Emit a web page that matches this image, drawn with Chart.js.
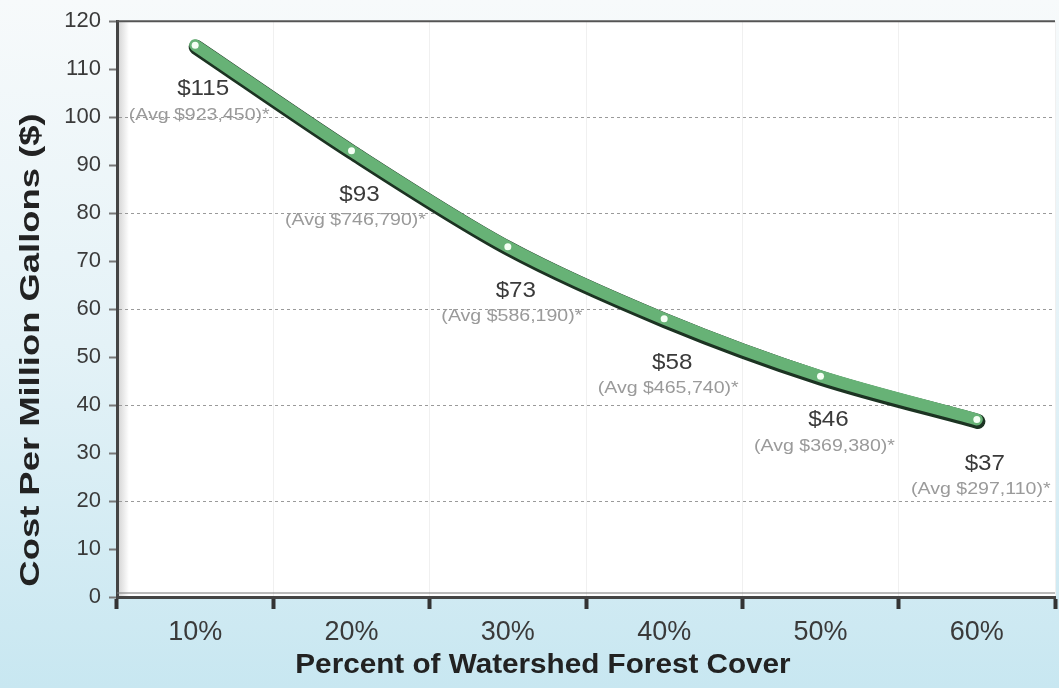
<!DOCTYPE html>
<html>
<head>
<meta charset="utf-8">
<script src="https://cdn.jsdelivr.net/npm/chart.js@4.4.1/dist/chart.umd.min.js"></script>
<style>
  html, body { margin: 0; padding: 0; background: #eef6f9; }
  #wrap { width: 1059px; height: 688px; position: relative; }
</style>
</head>
<body>
<div id="wrap"><canvas id="myChart"></canvas></div>
<script>
(() => {
  'use strict'

  // data
  const categories = ['10%', '20%', '30%', '40%', '50%', '60%']
  const costPerMillion = [115, 93, 73, 58, 46, 37]
  const avgCost = [923450, 746790, 586190, 465740, 369380, 297110]
  const yTicks = [0, 10, 20, 30, 40, 50, 60, 70, 80, 90, 100, 110, 120]
  const yTitle = 'Cost Per Million Gallons ($)'
  const xTitle = 'Percent of Watershed Forest Cover'

  const FONT = '"Liberation Sans", Arial, sans-serif'

  // text a bit wider than the font gives (the original picture is stretched)
  function wideText (ctx, text, x, y, sx) {
    ctx.save()
    ctx.translate(x, y)
    ctx.scale(sx, 1)
    ctx.fillText(text, 0, 0)
    ctx.restore()
  }

  // background, plot frame, titles, point labels
  const framePlugin = {
    id: 'frame',
    beforeDraw (chart) {
      const { ctx, chartArea: a, width, height } = chart
      ctx.save()
      const g = ctx.createLinearGradient(0, 0, 0, height)
      g.addColorStop(0, '#f7fafb')
      g.addColorStop(0.5, '#e4f2f7')
      g.addColorStop(1, '#c8e7f1')
      ctx.fillStyle = g
      ctx.fillRect(0, 0, width, height)
      ctx.fillStyle = '#ffffff'
      ctx.fillRect(a.left, a.top, a.right - a.left, a.bottom - a.top)
      const s = ctx.createLinearGradient(a.left, 0, a.left + 12, 0)
      s.addColorStop(0, 'rgba(120,120,120,0.35)')
      s.addColorStop(1, 'rgba(120,120,120,0)')
      ctx.fillStyle = s
      ctx.fillRect(a.left, a.top, 12, a.bottom - a.top)
      ctx.restore()
    },
    beforeDatasetDraw (chart, args) {
      if (args.index === 1) {
        chart.ctx.save()
        chart.ctx.translate(1, 2)
      }
    },
    afterDatasetDraw (chart, args) {
      if (args.index === 1) chart.ctx.restore()
    },
    afterDraw (chart) {
      const { ctx, chartArea: a } = chart
      ctx.save()
      // top border
      ctx.strokeStyle = '#555'
      ctx.lineWidth = 2
      ctx.beginPath()
      ctx.moveTo(a.left, a.top)
      ctx.lineTo(a.right, a.top)
      ctx.stroke()
      // double bottom line
      ctx.strokeStyle = '#777'
      ctx.lineWidth = 1
      ctx.beginPath()
      ctx.moveTo(a.left, a.bottom - 4)
      ctx.lineTo(a.right, a.bottom - 4)
      ctx.stroke()

      // value labels under each point
      const meta = chart.getDatasetMeta(0)
      ctx.textAlign = 'center'
      ctx.textBaseline = 'middle'
      meta.data.forEach((pt, i) => {
        ctx.fillStyle = '#3a3a3a'
        ctx.font = '22px ' + FONT
        wideText(ctx, '$' + costPerMillion[i], pt.x + 8, pt.y + 44, 1.1)
        ctx.fillStyle = '#9a9a9a'
        ctx.font = '17px ' + FONT
        wideText(ctx, '(Avg $' + avgCost[i].toLocaleString('en-US') + ')*', pt.x + 4, pt.y + 70, 1.15)
      })

      // axis titles
      ctx.fillStyle = '#222'
      ctx.font = 'bold 28px ' + FONT
      wideText(ctx, xTitle, 543, 665, 1.06)
      ctx.save()
      ctx.translate(31, 350)
      ctx.rotate(-Math.PI / 2)
      wideText(ctx, yTitle, 0, 0, 1.3)
      ctx.restore()
      ctx.restore()
    }
  }

  const ctx = document.getElementById('myChart')

  // eslint-disable-next-line no-unused-vars
  const myChart = new Chart(ctx, {
    type: 'line',
    plugins: [framePlugin],
    data: {
      labels: categories,
      datasets: [{
        data: costPerMillion,
        tension: 0.3,
        borderColor: '#67b276',
        borderWidth: 12,
        borderCapStyle: 'round',
        borderJoinStyle: 'round',
        pointRadius: 3.5,
        pointBorderWidth: 0,
        pointBackgroundColor: '#f4fff4',
        order: 1,
      }, {
        data: costPerMillion,
        tension: 0.3,
        borderColor: '#1c3322',
        borderWidth: 15,
        borderCapStyle: 'round',
        borderJoinStyle: 'round',
        pointRadius: 0,
        order: 2,
      }]
    },
    options: {
      responsive: true,
      maintainAspectRatio: false,
      animation: false,
      layout: { padding: { top: 16, right: 0, left: 0, bottom: 0 } },
      plugins: {
        legend: { display: false },
        tooltip: { enabled: false },
      },
      scales: {
        x: {
          offset: true,
          grid: {
            offset: true,
            color: '#f0f0f0',
            lineWidth: 1,
            tickColor: '#333',
            tickWidth: 4,
            tickLength: 12,
          },
          border: { color: '#444', width: 3 },
          ticks: {
            color: '#3a3a3a',
            font: { family: FONT, size: 27 },
            padding: 7,
          },
          afterFit (scale) { scale.height = 91 },
        },
        y: {
          min: 0,
          max: 120,
          afterBuildTicks (scale) { scale.ticks = yTicks.map(v => ({ value: v })) },
          grid: {
            color: c => (c.tick && c.tick.value % 20 === 0 && c.tick.value > 0 && c.tick.value < 120) ? '#9a9a9a' : 'rgba(0,0,0,0)',
            lineWidth: 1,
            tickColor: '#777',
            tickLength: 8,
            tickWidth: 2,
            tickBorderDash: [],
          },
          border: { color: '#444', width: 3, dash: [3, 3] },
          ticks: {
            color: '#3a3a3a',
            font: { family: FONT, size: 22 },
            padding: 8,
          },
          afterFit (scale) { scale.width = 117 },
        },
      },
    }
  })
})()
</script>
</body>
</html>
